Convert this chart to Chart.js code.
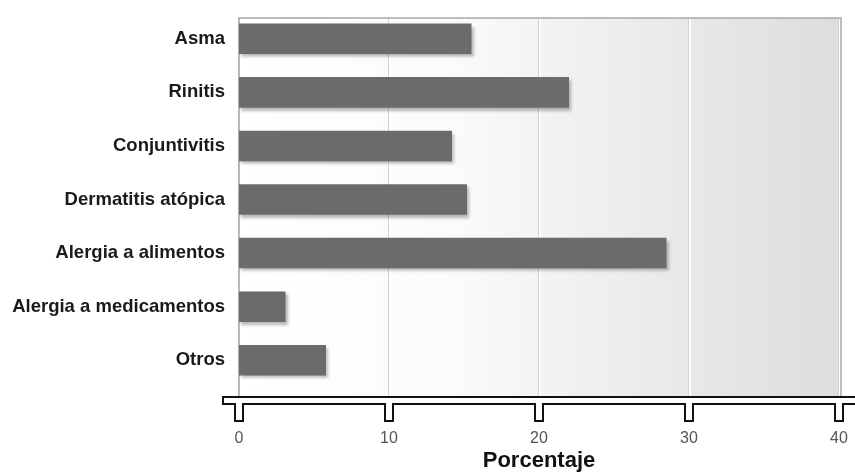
<!DOCTYPE html>
<html>
<head>
<meta charset="utf-8">
<script src="https://cdn.jsdelivr.net/npm/chart.js@4.4.1/dist/chart.umd.min.js"></script>
<style>
  html, body { margin: 0; padding: 0; background: #fff; }
  #wrap { width: 855px; height: 474px; }
</style>
</head>
<body>
<div id="wrap"><canvas id="myChart" width="855" height="474"></canvas></div>
<script>
const categories = [
  "Asma",
  "Rinitis",
  "Conjuntivitis",
  "Dermatitis atópica",
  "Alergia a alimentos",
  "Alergia a medicamentos",
  "Otros",
];
const porcentajes = [15.5, 22.0, 14.2, 15.2, 28.5, 3.1, 5.8];
const xTicks = [0, 10, 20, 30, 40];

// background, frame and vertical grid lines behind the bars
const panelPlugin = {
  id: "panel",
  beforeDatasetsDraw(chart) {
    const { ctx, chartArea, scales } = chart;
    const x = scales.x;
    const top = chartArea.top + 6;
    const bottom = chartArea.bottom + 10;
    const left = chartArea.left;
    const right = chartArea.right + 2;
    ctx.save();
    const g = ctx.createLinearGradient(left, 0, right, 0);
    g.addColorStop(0, "#ffffff");
    g.addColorStop(0.35, "#fbfbfb");
    g.addColorStop(0.55, "#f1f1f1");
    g.addColorStop(0.75, "#e8e8e8");
    g.addColorStop(1, "#dddddd");
    ctx.fillStyle = g;
    ctx.fillRect(left, top, right - left, bottom - top);

    xTicks.forEach(v => {
      const px = Math.round(x.getPixelForValue(v));
      ctx.fillStyle = "#d2d2d2";
      ctx.fillRect(px - 1, top, 1, bottom - top);
      ctx.fillStyle = "#ffffff";
      ctx.fillRect(px, top, 2, bottom - top);
    });

    ctx.strokeStyle = "#a8a8a8";
    ctx.lineWidth = 1.5;
    ctx.beginPath();
    ctx.moveTo(left, bottom);
    ctx.lineTo(left, top);
    ctx.lineTo(right, top);
    ctx.lineTo(right, bottom);
    ctx.stroke();
    ctx.restore();
  },
};

// soft shadow under the bars
const shadowPlugin = {
  id: "barShadow",
  beforeDatasetDraw(chart) {
    const ctx = chart.ctx;
    ctx.save();
    ctx.shadowColor = "rgba(0,0,0,0.28)";
    ctx.shadowOffsetX = 2;
    ctx.shadowOffsetY = 3;
    ctx.shadowBlur = 3;
  },
  afterDatasetDraw(chart) {
    chart.ctx.restore();
  },
};

// bracket shaped x axis
const axisPlugin = {
  id: "bracketAxis",
  afterDatasetsDraw(chart) {
    const { ctx, chartArea, scales } = chart;
    const x = scales.x;
    const y1 = chartArea.bottom + 10;
    const y2 = y1 + 7;
    const y3 = y2 + 17;
    const x0 = chartArea.left - 16;
    const x1 = chart.width + 5;
    const pts = [[x1, y1], [x0, y1], [x0, y2]];
    xTicks.forEach(v => {
      const px = x.getPixelForValue(v);
      pts.push([px - 4, y2], [px - 4, y3], [px + 4, y3], [px + 4, y2]);
    });
    pts.push([x1, y2]);
    ctx.save();
    ctx.beginPath();
    pts.forEach((p, i) => (i ? ctx.lineTo(p[0], p[1]) : ctx.moveTo(p[0], p[1])));
    ctx.closePath();
    ctx.fillStyle = "#ffffff";
    ctx.fill();
    ctx.strokeStyle = "#111";
    ctx.lineWidth = 2;
    ctx.lineJoin = "miter";
    ctx.stroke();
    ctx.restore();
  },
};

function noPad(scale) {
  scale.paddingLeft = 0;
  scale.paddingRight = 0;
  scale.paddingTop = 0;
  scale.paddingBottom = 0;
}

const config = {
  type: "bar",
  data: {
    labels: categories,
    datasets: [
      {
        label: "Porcentaje",
        data: porcentajes,
        backgroundColor: "#6b6b6b",
        borderWidth: 0,
        categoryPercentage: 1,
        barPercentage: 0.57,
      },
    ],
  },
  options: {
    indexAxis: "y",
    responsive: false,
    animation: false,
    devicePixelRatio: 1,
    layout: { padding: { top: 12, right: 16, bottom: 0, left: 0 } },
    plugins: {
      legend: { display: false },
      tooltip: { enabled: false },
    },
    scales: {
      x: {
        min: 0,
        max: 40,
        afterBuildTicks(scale) {
          scale.ticks = xTicks.map(v => ({ value: v }));
        },
        afterFit(scale) {
          scale.height = 87;
          noPad(scale);
        },
        grid: { display: false, drawTicks: false },
        border: { display: false },
        ticks: {
          padding: 42,
          maxRotation: 0,
          color: "#555",
          font: { family: "'Liberation Sans', Arial, sans-serif", size: 16 },
        },
        title: {
          display: true,
          text: "Porcentaje",
          color: "#111",
          padding: { top: 0, bottom: 0 },
          font: { family: "'Liberation Sans', Arial, sans-serif", size: 22, weight: "bold" },
        },
      },
      y: {
        afterFit(scale) {
          scale.width = 239;
          noPad(scale);
        },
        grid: { display: false, drawTicks: false },
        border: { display: false },
        ticks: {
          padding: 14,
          color: "#1a1a1a",
          font: { family: "'Liberation Sans', Arial, sans-serif", size: 18.5, weight: "bold" },
        },
      },
    },
  },
  plugins: [panelPlugin, shadowPlugin, axisPlugin],
};

const myChart = new Chart(document.getElementById("myChart"), config);
</script>
</body>
</html>
